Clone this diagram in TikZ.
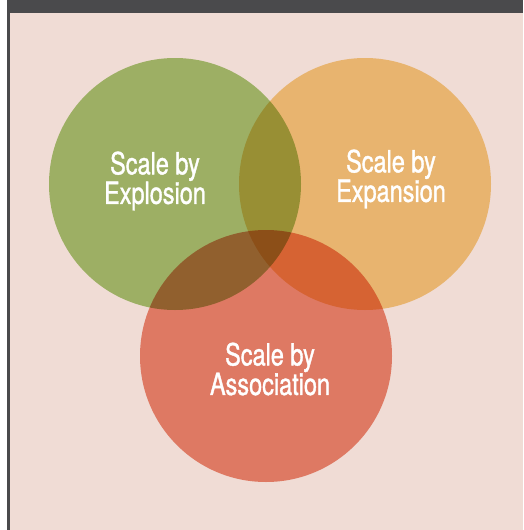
\documentclass[tikz,border=0pt]{standalone}
\usepackage{fontspec}
\setmainfont{TeX Gyre Heros}[FakeStretch=0.78]
\newfontfamily\vennfont{TeX Gyre Heros}[FakeStretch=0.77,FakeBold=1.2]
\usepackage{tikz}
\usetikzlibrary{positioning}

\definecolor{pagebg}{RGB}{240,220,213}
\definecolor{barcol}{RGB}{74,74,76}
\definecolor{explcol}{RGB}{167,203,120}
\definecolor{expacol}{RGB}{247,209,134}
\definecolor{assocol}{RGB}{236,141,119}

\tikzset{
  venn/.style={circle,inner sep=0pt,minimum size=252pt,blend mode=multiply},
  vennlabel/.style={text=white,align=center,font=\vennfont\fontsize{30.5}{29.5}\selectfont,inner sep=0pt}
}

\begin{document}
\begin{tikzpicture}[x=1pt,y=-1pt]
      \useasboundingbox (0,0) rectangle (523,530);
      % page and frame
      \fill[white] (0,0) rectangle (523,530);
      \fill[pagebg] (10,13) rectangle (523,530);
      \fill[barcol] (7,0) rectangle (523,13);
      \fill[barcol] (7,13) rectangle (10,530);
      % circles
      \node[venn,fill=explcol] (explosion) at (175,184) {};
      \node[venn,fill=expacol] (expansion) at (365,184) {};
      \node[venn,fill=assocol] (association) at (266,356) {};
      % labels
      \node[vennlabel] (explosionlabel) at (155,181) {Scale by\\Explosion};
      \node[vennlabel] (expansionlabel) at (391,179) {Scale by\\Expansion};
      \node[vennlabel] (associationlabel) at (270,369) {Scale by\\Association};
    \end{tikzpicture}
\end{document}
